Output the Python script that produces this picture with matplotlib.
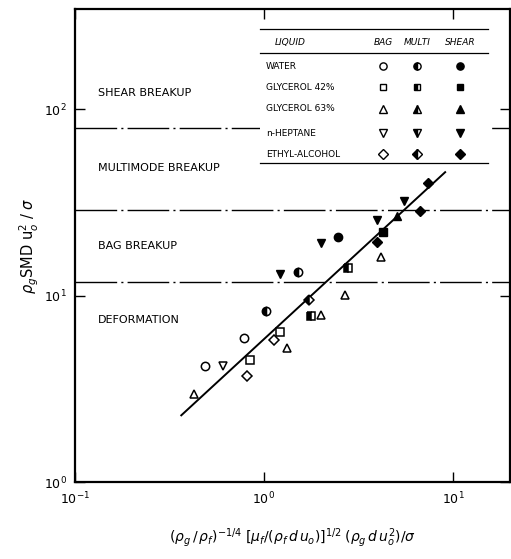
"""Drop breakup regimes: SMD correlation on log-log axes."""
import numpy as np
import matplotlib
matplotlib.use("Agg")
import matplotlib.pyplot as plt
from matplotlib.patches import Rectangle

# ---- data ----
liquids = ["WATER", "GLYCEROL 42%", "GLYCEROL 63%", "n-HEPTANE", "ETHYL-ALCOHOL"]
markers = ["o", "s", "^", "v", "D"]

bag_x = {"WATER": [0.787, 0.487], "GLYCEROL 42%": [1.21, 0.845],
         "GLYCEROL 63%": [2.67, 2.0, 1.33, 0.427, 4.17], "n-HEPTANE": [0.604],
         "ETHYL-ALCOHOL": [1.13, 0.815]}
bag_y = {"WATER": [5.96, 4.22], "GLYCEROL 42%": [6.4, 4.49],
         "GLYCEROL 63%": [10.1, 7.9, 5.27, 2.96, 16.2], "n-HEPTANE": [4.22],
         "ETHYL-ALCOHOL": [5.75, 3.69]}
multi_x = {"WATER": [1.52, 1.02], "GLYCEROL 42%": [2.77, 1.78], "ETHYL-ALCOHOL": [1.74]}
multi_y = {"WATER": [13.4, 8.3], "GLYCEROL 42%": [14.1, 7.8], "ETHYL-ALCOHOL": [9.5]}
shear_x = {"WATER": [2.46], "GLYCEROL 42%": [4.27], "GLYCEROL 63%": [5.05],
           "n-HEPTANE": [1.21, 2.0, 5.49, 3.97], "ETHYL-ALCOHOL": [7.41, 6.65, 3.97]}
shear_y = {"WATER": [20.7], "GLYCEROL 42%": [22.0], "GLYCEROL 63%": [26.8],
           "n-HEPTANE": [13.1, 19.2, 32.2, 25.5], "ETHYL-ALCOHOL": [40.2, 28.5, 19.4]}

fit_x = [0.365, 9.09]
fit_y = [2.28, 46.0]

boundaries = [79.0, 28.8, 11.9]
regions = ["SHEAR BREAKUP", "MULTIMODE BREAKUP", "BAG BREAKUP", "DEFORMATION"]
region_y = [0.822, 0.664, 0.499, 0.342]

# marker sizes: matplotlib triangles look small, diamonds large
msize = {"o": 6, "s": 5.5, "^": 6.4, "v": 6.4, "D": 5.4}

fig = plt.figure(figsize=(5.11, 5.59), dpi=100)
ax = fig.add_axes([0.1468, 0.1377, 0.851, 0.846])
ax.set_xscale("log"); ax.set_yscale("log")
ax.set_xlim(0.1, 20); ax.set_ylim(1, 345)

ds = (0, (30, 3, 1.5, 3))
for b in boundaries:
    ax.axhline(b, color="k", lw=1.0, ls=ds, zorder=1)

ax.plot(fit_x, fit_y, color="k", lw=1.4, zorder=2)

for liq, m in zip(liquids, markers):
    ms = msize[m]
    if liq in bag_x:
        ax.plot(bag_x[liq], bag_y[liq], ls="none", marker=m, ms=ms,
                mfc="white", mec="k", mew=1.1, zorder=3)
    if liq in multi_x:
        ax.plot(multi_x[liq], multi_y[liq], ls="none", marker=m, ms=ms,
                fillstyle="left", mfc="k", mfcalt="white", mec="k", mew=1.1, zorder=3)
    if liq in shear_x:
        ax.plot(shear_x[liq], shear_y[liq], ls="none", marker=m, ms=ms,
                mfc="k", mec="k", zorder=3)

for name, yy in zip(regions, region_y):
    ax.text(0.053, yy, name, transform=ax.transAxes, fontsize=8,
            va="center", ha="left")

# ---- legend table ----
tx0, tx1 = 0.425, 0.949
ax.add_patch(Rectangle((tx0, 0.674), tx1 - tx0, 0.958 - 0.674,
                       transform=ax.transAxes, facecolor="white",
                       edgecolor="none", zorder=4))
for yy in [0.958, 0.907, 0.674]:
    ax.plot([tx0, tx1], [yy, yy], transform=ax.transAxes, color="k",
            lw=0.9, zorder=5)
ax.text(0.46, 0.930, "LIQUID", transform=ax.transAxes, fontsize=6.5,
        style="italic", va="center", zorder=6)
col_x = [0.708, 0.786, 0.885]
for cx, h in zip(col_x, ["BAG", "MULTI", "SHEAR"]):
    ax.text(cx, 0.930, h, transform=ax.transAxes, fontsize=6.5,
            style="italic", va="center", ha="center", zorder=6)
row_y = [0.879, 0.835, 0.789, 0.738, 0.693]
for liq, m, ry in zip(liquids, markers, row_y):
    ms = msize[m] - 0.8
    ax.text(0.439, ry, liq, transform=ax.transAxes, fontsize=6.5,
            va="center", zorder=6)
    ax.plot(col_x[0], ry, transform=ax.transAxes, marker=m, ms=ms,
            mfc="white", mec="k", mew=1.0, zorder=6)
    ax.plot(col_x[1], ry, transform=ax.transAxes, marker=m, ms=ms,
            fillstyle="left", mfc="k", mfcalt="white", mec="k", mew=1.0, zorder=6)
    ax.plot(col_x[2], ry, transform=ax.transAxes, marker=m, ms=ms,
            mfc="k", mec="k", zorder=6)

ax.minorticks_off()
ax.tick_params(which="major", direction="in", length=7, width=1.0,
               top=True, right=True, labelsize=9, pad=6)
for s in ax.spines.values():
    s.set_linewidth(1.6)

ax.set_ylabel(r"$\rho_g$SMD u$_o^2$ / $\sigma$", fontsize=10.5, labelpad=2)
ax.set_xlabel(r"$(\rho_g\,/\,\rho_f)^{-1/4}\;[\mu_f/(\rho_f\,d\,u_o)]^{1/2}\;(\rho_g\,d\,u_o^2)/\sigma$",
              fontsize=10, labelpad=14)

fig.savefig("out.png", dpi=100)
